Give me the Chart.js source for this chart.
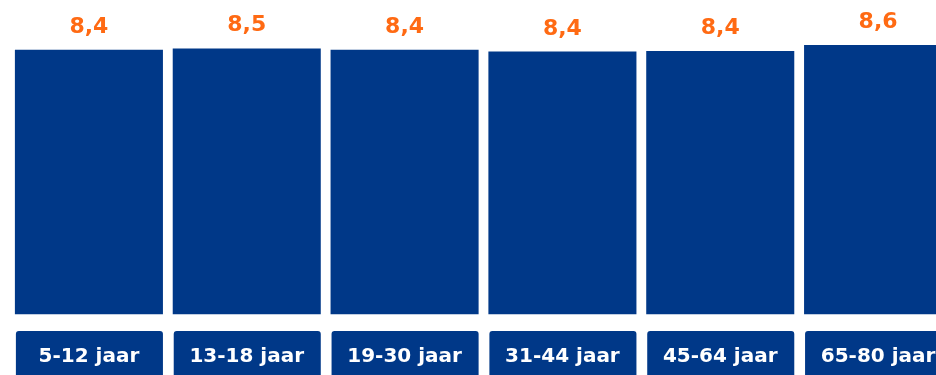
<!DOCTYPE html>
<html>
<head>
<meta charset="utf-8">
<script src="https://cdn.jsdelivr.net/npm/chart.js@4.4.1/dist/chart.umd.min.js"></script>
<style>
    html, body { margin: 0; padding: 0; background: #ffffff; overflow: hidden; }
    #wrap { position: relative; width: 967px; height: 375px; }
</style>
</head>
<body>
<div id="wrap"><canvas id="ageChart"></canvas></div>
<script>
// Data
const ageGroups = ['5-12 jaar', '13-18 jaar', '19-30 jaar', '31-44 jaar', '45-64 jaar', '65-80 jaar'];
const scores = [8.42, 8.46, 8.42, 8.36, 8.38, 8.57];

const barBlue = '#003888';
const scoreOrange = '#ff6a13';

// Blue boxes behind the category labels
const labelBoxes = {
    id: 'labelBoxes',
    beforeDraw(chart) {
        const ctx = chart.ctx;
        const meta = chart.getDatasetMeta(0);
        const xScale = chart.scales.x;
        ctx.save();
        ctx.fillStyle = barBlue;
        meta.data.forEach((bar, i) => {
            const w = bar.width;
            const x = xScale.getPixelForValue(i) - w / 2;
            ctx.beginPath();
            ctx.roundRect(x + 1, 331, w - 1, 60, 3);
            ctx.fill();
        });
        ctx.restore();
    }
};

// Orange scores above the bars
const scoreLabels = {
    id: 'scoreLabels',
    afterDatasetsDraw(chart) {
        const ctx = chart.ctx;
        const meta = chart.getDatasetMeta(0);
        ctx.save();
        ctx.fillStyle = scoreOrange;
        ctx.font = 'bold 22px "DejaVu Sans"';
        ctx.textAlign = 'center';
        ctx.textBaseline = 'alphabetic';
        meta.data.forEach((bar, i) => {
            const text = scores[i].toFixed(1).replace('.', ',');
            ctx.fillText(text, bar.x, bar.y - 17);
        });
        ctx.restore();
    }
};

new Chart(document.getElementById('ageChart'), {
    type: 'bar',
    data: {
        labels: ageGroups,
        datasets: [{
            data: scores,
            backgroundColor: barBlue,
            borderWidth: 0,
            categoryPercentage: 1,
            barPercentage: 0.938
        }]
    },
    options: {
        responsive: true,
        maintainAspectRatio: false,
        animation: false,
        layout: { padding: { left: 10, right: 10, top: 0, bottom: 0 } },
        plugins: {
            legend: { display: false },
            tooltip: { enabled: false }
        },
        scales: {
            x: {
                grid: { display: false, drawTicks: false },
                border: { display: false },
                ticks: {
                    color: '#ffffff',
                    padding: 30,
                    maxRotation: 0,
                    font: { family: '"DejaVu Sans"', size: 20, weight: 'bold' }
                },
                afterFit(scale) { scale.height = 60.5; }
            },
            y: {
                display: false,
                min: 0,
                max: 10
            }
        }
    },
    plugins: [labelBoxes, scoreLabels]
});
</script>
</body>
</html>
